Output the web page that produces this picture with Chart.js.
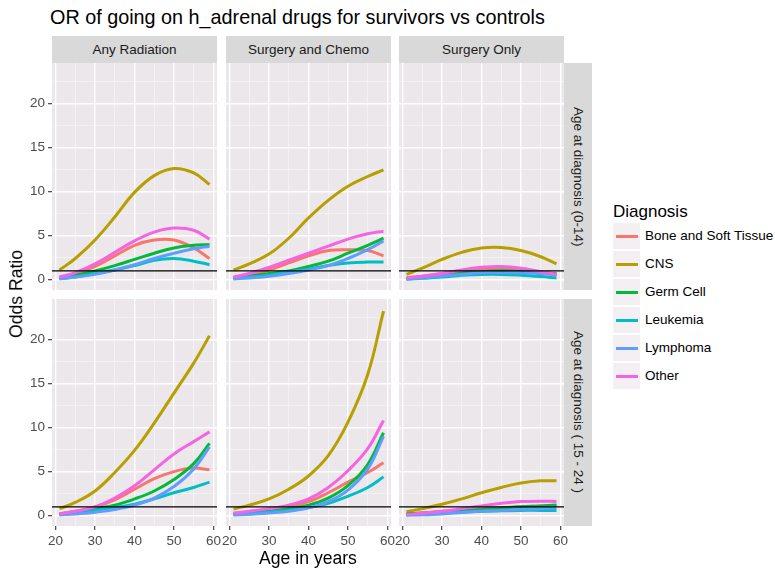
<!DOCTYPE html>
<html>
<head>
<meta charset="utf-8">
<script src="https://cdn.jsdelivr.net/npm/chart.js@4.4.1/dist/chart.umd.min.js"></script>
<style>
body { margin: 0; background: #fff; font-family: "Liberation Sans", Arial, sans-serif; }
#wrap { position: relative; width: 775px; height: 569px; overflow: hidden; background: #fff; }
#wrap canvas { position: absolute; }
.txt { position: absolute; white-space: nowrap; line-height: 1; }
.strip { position: absolute; background: #d9d9d9; color: #1a1a1a; font-size: 13.5px;
  display: flex; align-items: center; justify-content: center; white-space: nowrap; }
.vstrip { writing-mode: vertical-rl; }
.key { position: absolute; width: 27px; height: 26px; background: #f3eff3; }
.key i { position: absolute; left: 3px; right: 2px; top: 11.5px; height: 3px; }
</style>
</head>
<body>
<div id="wrap"></div>
<script>
// categories and tick labels
const diagnoses = ['Bone and Soft Tissue', 'CNS', 'Germ Cell', 'Leukemia', 'Lymphoma', 'Other']
const colors = ['#F8766D', '#B79F00', '#00BA38', '#00BFC4', '#619CFF', '#F564E3']
const treatments = ['Any Radiation', 'Surgery and Chemo', 'Surgery Only']
const ageGroups = ['Age at diagnosis (0-14)', 'Age at diagnosis ( 15 - 24 )']
const ages = [21, 25, 30, 35, 40, 45, 50, 55, 59]
const xTicks = [20, 30, 40, 50, 60]
const yTicks = [0, 5, 10, 15, 20]
const refLine = 1

// odds ratios, one row per diagnosis (same order as diagnoses)
const radiationYoung = [
  [0.2, 0.6, 1.5, 2.7, 3.9, 4.5, 4.5, 3.6, 2.4],
  [1.1, 2.4, 4.5, 7.1, 9.9, 11.8, 12.6, 12.1, 10.8],
  [0.2, 0.5, 1.0, 1.6, 2.3, 3.0, 3.6, 3.9, 4.0],
  [0.1, 0.3, 0.7, 1.1, 1.6, 2.2, 2.4, 2.1, 1.7],
  [0.1, 0.3, 0.6, 1.1, 1.7, 2.4, 3.0, 3.5, 3.8],
  [0.3, 0.8, 1.8, 3.1, 4.4, 5.4, 5.85, 5.6, 4.6]
]
const chemoYoung = [
  [0.2, 0.5, 1.1, 1.9, 2.7, 3.3, 3.4, 3.3, 2.7],
  [1.1, 1.8, 2.9, 4.7, 7.0, 9.0, 10.6, 11.7, 12.45],
  [0.2, 0.4, 0.7, 1.0, 1.5, 2.1, 3.0, 3.9, 4.7],
  [0.1, 0.3, 0.5, 0.9, 1.2, 1.6, 1.9, 2.0, 2.0],
  [0.1, 0.2, 0.4, 0.7, 1.1, 1.6, 2.4, 3.4, 4.4],
  [0.3, 0.7, 1.4, 2.2, 3.0, 3.8, 4.6, 5.2, 5.5]
]
const surgeryYoung = [
  [0.2, 0.4, 0.7, 1.0, 1.2, 1.3, 1.1, 0.8, 0.5],
  [0.6, 1.3, 2.3, 3.1, 3.6, 3.65, 3.3, 2.6, 1.8],
  [0.1, 0.3, 0.5, 0.8, 0.9, 1.0, 0.9, 0.8, 0.7],
  [0.05, 0.15, 0.3, 0.5, 0.6, 0.6, 0.5, 0.35, 0.2],
  [0.1, 0.2, 0.4, 0.6, 0.8, 0.8, 0.8, 0.7, 0.6],
  [0.2, 0.4, 0.7, 1.1, 1.4, 1.5, 1.3, 0.9, 0.6]
]
const radiationOld = [
  [0.2, 0.5, 1.0, 1.8, 3.0, 4.2, 5.0, 5.4, 5.2],
  [0.8, 1.5, 2.8, 4.9, 7.4, 10.5, 13.9, 17.3, 20.4],
  [0.2, 0.4, 0.8, 1.2, 1.9, 2.8, 4.1, 5.9, 8.2],
  [0.1, 0.3, 0.6, 0.9, 1.3, 1.9, 2.6, 3.2, 3.8],
  [0.1, 0.2, 0.4, 0.7, 1.2, 2.0, 3.3, 5.3, 7.8],
  [0.2, 0.5, 1.0, 2.0, 3.4, 5.2, 7.0, 8.4, 9.5]
]
const chemoOld = [
  [0.2, 0.4, 0.6, 1.0, 1.6, 2.6, 3.8, 4.9, 6.0],
  [0.75, 1.2, 1.9, 3.0, 4.5, 6.8, 10.6, 16.0, 23.2],
  [0.2, 0.3, 0.5, 0.8, 1.2, 2.0, 3.4, 5.8, 9.4],
  [0.1, 0.2, 0.4, 0.6, 0.9, 1.4, 2.2, 3.2, 4.4],
  [0.1, 0.15, 0.3, 0.5, 0.9, 1.6, 2.9, 5.3, 9.0],
  [0.3, 0.5, 0.8, 1.2, 1.9, 3.2, 5.1, 7.6, 10.8]
]
const surgeryOld = [
  [0.2, 0.3, 0.5, 0.6, 0.8, 0.9, 1.0, 1.1, 1.1],
  [0.45, 0.8, 1.3, 1.9, 2.6, 3.2, 3.7, 3.95, 3.95],
  [0.2, 0.3, 0.4, 0.55, 0.7, 0.85, 1.0, 1.1, 1.2],
  [0.1, 0.2, 0.3, 0.4, 0.5, 0.55, 0.6, 0.6, 0.6],
  [0.05, 0.1, 0.2, 0.35, 0.5, 0.6, 0.7, 0.8, 0.9],
  [0.1, 0.3, 0.5, 0.8, 1.1, 1.4, 1.6, 1.65, 1.6]
]
const panels = [
  [radiationYoung, chemoYoung, surgeryYoung],
  [radiationOld, chemoOld, surgeryOld]
]

// layout
const colLeft = [52, 226, 399]
const colW = 165
const rowTop = [63, 299]
const rowH = 227
const xMin = 19.1, xMax = 60.9
const yMin = -1.17, yMax = 24.57
const panelBg = '#ebe7eb'
const font = '"Liberation Sans", Arial, sans-serif'

const wrap = document.getElementById('wrap')

const addText = (text, css) => {
  const d = document.createElement('div')
  d.className = 'txt'
  d.textContent = text
  Object.assign(d.style, css)
  wrap.appendChild(d)
  return d
}

// major ticks plus the minor ones halfway between
const gridValues = (major, min, max) => {
  const step = major[1] - major[0]
  const out = []
  for (let v = major[0] - step; v <= max + 1e-9; v += step / 2) {
    if (v >= min - 1e-9) out.push(v)
  }
  return out
}
const xGrid = gridValues(xTicks, xMin, xMax)
const yGrid = gridValues(yTicks, yMin, yMax)

const panelPlugin = {
  id: 'panelPlugin',
  beforeDraw(chart) {
    const a = chart.chartArea
    const ctx = chart.ctx
    ctx.save()
    ctx.fillStyle = panelBg
    ctx.fillRect(a.left, a.top, a.right - a.left, a.bottom - a.top)
    ctx.restore()
  },
  afterDatasetsDraw(chart) {
    const a = chart.chartArea
    const ctx = chart.ctx
    const y = chart.scales.y.getPixelForValue(refLine)
    ctx.save()
    ctx.strokeStyle = '#000'
    ctx.lineWidth = 1.1
    ctx.beginPath()
    ctx.moveTo(a.left, y)
    ctx.lineTo(a.right, y)
    ctx.stroke()
    ctx.restore()
  }
}

const axisOpts = (grid, majors, min, max, showTicks, size, horizontal) => ({
  type: 'linear',
  min, max,
  afterBuildTicks: s => { s.ticks = grid.map(v => ({ value: v })) },
  afterFit: s => {
    if (horizontal) s.height = size
    else s.width = size
    // keep the chart area fixed, labels may overhang it
    s.paddingTop = s.paddingBottom = s.paddingLeft = s.paddingRight = 0
  },
  border: { display: false },
  grid: {
    color: c => majors.includes(c.tick.value) ? '#ffffff' : 'rgba(255,255,255,0.55)',
    lineWidth: c => majors.includes(c.tick.value) ? 1.4 : 0.8,
    drawTicks: showTicks,
    tickLength: 4,
    tickWidth: 1.1,
    tickColor: c => majors.includes(c.tick.value) ? '#333333' : 'rgba(0,0,0,0)'
  },
  ticks: {
    display: showTicks,
    autoSkip: false,
    maxRotation: 0,
    padding: 3,
    color: '#4d4d4d',
    font: { family: font, size: 13.5 },
    callback: v => majors.includes(v) ? String(v) : ''
  }
})

const makePanel = (r, c) => {
  const left = c === 0
  const bottom = r === panels.length - 1
  const padX = bottom ? 10 : 0
  const axisW = left ? 52 : 0
  const axisH = bottom ? 30 : 0
  const w = colW + axisW + 2 * padX
  const h = rowH + axisH
  const cv = document.createElement('canvas')
  cv.width = w
  cv.height = h
  cv.style.width = w + 'px'
  cv.style.height = h + 'px'
  cv.style.left = (colLeft[c] - axisW - padX) + 'px'
  cv.style.top = rowTop[r] + 'px'
  wrap.appendChild(cv)

  const series = panels[r][c]
  new Chart(cv.getContext('2d'), {
    type: 'line',
    data: {
      datasets: diagnoses.map((d, i) => ({
        label: d,
        data: ages.map((a, k) => ({ x: a, y: series[i][k] })),
        borderColor: colors[i],
        backgroundColor: colors[i],
        borderWidth: 3,
        pointRadius: 0,
        fill: false,
        tension: 0.4,
        borderCapStyle: 'butt',
        order: diagnoses.length - i
      }))
    },
    options: {
      responsive: false,
      animation: false,
      devicePixelRatio: 1,
      events: [],
      layout: { padding: { left: padX, right: padX, top: 0, bottom: 0 } },
      plugins: { legend: { display: false }, tooltip: { enabled: false } },
      scales: {
        x: axisOpts(xGrid, xTicks, xMin, xMax, bottom, axisH, true),
        y: axisOpts(yGrid, yTicks, yMin, yMax, left, axisW, false)
      }
    },
    plugins: [panelPlugin]
  })
}

panels.forEach((row, r) => row.forEach((p, c) => makePanel(r, c)))

// facet strips
treatments.forEach((t, c) => {
  const s = document.createElement('div')
  s.className = 'strip'
  s.textContent = t
  Object.assign(s.style, { left: colLeft[c] + 'px', top: '36px', width: colW + 'px', height: '27px' })
  wrap.appendChild(s)
})
ageGroups.forEach((g, r) => {
  const s = document.createElement('div')
  s.className = 'strip vstrip'
  s.textContent = g
  Object.assign(s.style, { left: (colLeft[2] + colW) + 'px', top: rowTop[r] + 'px', width: '28px', height: rowH + 'px' })
  wrap.appendChild(s)
})

// titles
addText('OR of going on h_adrenal drugs for survivors vs controls',
  { left: '50px', top: '8px', fontSize: '19.8px', color: '#000' })
addText('Age in years', { left: '308px', top: '550px', fontSize: '17.6px', color: '#000', transform: 'translateX(-50%)' })
const yt = addText('Odds Ratio', { left: '17px', top: '294px', fontSize: '17.6px', color: '#000' })
yt.style.transform = 'translate(-50%, -50%) rotate(-90deg)'

// legend
addText('Diagnosis', { left: '613px', top: '203px', fontSize: '17px', color: '#000' })
diagnoses.forEach((d, i) => {
  const top = 223 + i * 28
  const k = document.createElement('div')
  k.className = 'key'
  k.style.left = '613px'
  k.style.top = top + 'px'
  const line = document.createElement('i')
  line.style.background = colors[i]
  k.appendChild(line)
  wrap.appendChild(k)
  addText(d, { left: '645px', top: (top + 6) + 'px', fontSize: '13.5px', color: '#000' })
})
</script>
</body>
</html>
